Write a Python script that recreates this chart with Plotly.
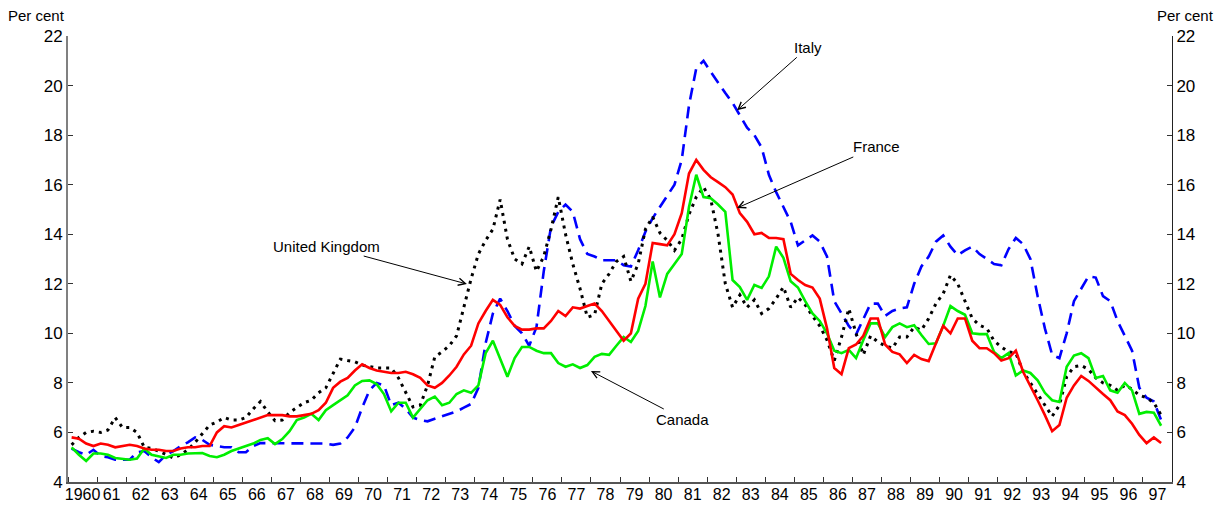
import plotly.graph_objects as go

# Quarterly data, 1960Q1 - 1997Q3 (per cent)
START_YEAR = 1960
N_QUARTERS = 151

italy = [
    5.35, 5.2, 5.1, 5.3,      # 1960
    5.05, 5.0, 4.9, 4.9,      # 1961
    4.9, 5.2, 5.25, 5.0,      # 1962
    4.8, 5.1, 5.25, 5.45,     # 1963
    5.6, 5.8, 5.7, 5.5,       # 1964
    5.45, 5.4, 5.4, 5.2,      # 1965
    5.2, 5.45, 5.57, 5.57,    # 1966
    5.57, 5.57, 5.57, 5.57,   # 1967
    5.57, 5.57, 5.57, 5.55,   # 1968
    5.5, 5.55, 5.8, 6.2,      # 1969
    7.0, 7.7, 8.0, 7.9,       # 1970
    7.1, 7.2, 6.95, 6.6,      # 1971
    6.5, 6.45, 6.55, 6.65,    # 1972
    6.75, 6.85, 7.0, 7.15,    # 1973
    7.8, 9.6, 10.8, 11.4,     # 1974
    10.9, 10.3, 10.0, 9.5,    # 1975
    10.25, 12.5, 14.3, 14.9,  # 1976
    15.2, 14.9, 13.8, 13.2,   # 1977
    13.1, 12.95, 12.95, 12.95,  # 1978
    12.75, 12.7, 13.35, 14.1,   # 1979
    14.65, 15.1, 15.5, 16.0,    # 1980
    17.0, 19.2, 20.7, 21.0,     # 1981
    20.55, 20.1, 19.7, 19.3,    # 1982
    18.8, 18.3, 18.0, 17.5,     # 1983
    16.4, 15.7, 15.1, 14.5,     # 1984
    13.55, 13.75, 13.95, 13.7,  # 1985
    13.1, 11.3, 10.8, 10.3,     # 1986
    9.95, 10.6, 11.2, 11.2,     # 1987
    10.7, 10.9, 11.0, 11.05,    # 1988
    12.0, 12.7, 13.1, 13.7,     # 1989
    13.95, 13.5, 13.15, 13.35,  # 1990
    13.5, 13.2, 13.0, 12.8,     # 1991
    12.75, 13.4, 13.85, 13.6,   # 1992
    13.0, 11.5, 10.2, 9.13,     # 1993
    9.0, 10.0, 11.3, 11.8,      # 1994
    12.3, 12.25, 11.5, 11.3,    # 1995
    10.5, 9.9, 9.3, 7.8,        # 1996
    7.4, 7.25, 6.5,             # 1997
]

france = [
    5.8, 5.75, 5.55, 5.45,    # 1960
    5.55, 5.5, 5.4, 5.45,     # 1961
    5.5, 5.45, 5.35, 5.3,     # 1962
    5.3, 5.25, 5.25, 5.35,    # 1963
    5.4, 5.4, 5.45, 5.45,     # 1964
    6.0, 6.25, 6.2, 6.3,      # 1965
    6.4, 6.5, 6.6, 6.7,       # 1966
    6.7, 6.7, 6.65, 6.65,     # 1967
    6.7, 6.75, 6.9, 7.2,      # 1968
    7.8, 8.05, 8.2, 8.5,      # 1969
    8.75, 8.6, 8.5, 8.45,     # 1970
    8.4, 8.4, 8.45, 8.35,     # 1971
    8.2, 7.9, 7.8, 8.0,       # 1972
    8.3, 8.65, 9.15, 9.5,     # 1973
    10.4, 10.9, 11.35, 11.15,   # 1974
    10.65, 10.3, 10.15, 10.15,  # 1975
    10.2, 10.2, 10.5, 10.9,     # 1976
    10.7, 11.05, 11.0, 11.1,    # 1977
    11.2, 10.9, 10.5, 10.1,     # 1978
    9.7, 10.0, 11.4, 12.0,      # 1979
    13.65, 13.6, 13.55, 14.0,   # 1980
    14.85, 16.45, 17.0, 16.6,   # 1981
    16.3, 16.1, 15.9, 15.6,     # 1982
    14.85, 14.5, 14.0, 14.05,   # 1983
    13.85, 13.85, 13.8, 12.4,   # 1984
    12.15, 11.95, 11.85, 11.4,  # 1985
    10.2, 8.6, 8.35, 9.4,       # 1986
    9.55, 9.9, 10.6, 10.6,      # 1987
    9.55, 9.25, 9.15, 8.8,      # 1988
    9.13, 8.96, 8.88, 9.6,      # 1989
    10.3, 10.0, 10.6, 10.6,     # 1990
    9.7, 9.4, 9.4, 9.2,         # 1991
    8.9, 9.0, 9.3, 8.45,        # 1992
    7.9, 7.3, 6.7, 6.05,        # 1993
    6.3, 7.4, 7.9, 8.28,        # 1994
    8.08, 7.8, 7.55, 7.3,       # 1995
    6.85, 6.7, 6.35, 5.9,       # 1996
    5.57, 5.8, 5.57,            # 1997
]

uk = [
    5.5, 5.8, 6.0, 6.05,      # 1960
    6.0, 6.1, 6.6, 6.2,       # 1961
    6.2, 6.0, 5.4, 5.35,      # 1962
    5.25, 5.1, 4.97, 5.1,     # 1963
    5.3, 5.6, 5.95, 6.3,      # 1964
    6.42, 6.6, 6.5, 6.5,      # 1965
    6.6, 6.95, 7.25, 6.83,    # 1966
    6.47, 6.5, 6.8, 7.0,      # 1967
    7.2, 7.3, 7.6, 7.8,       # 1968
    8.4, 8.96, 8.9, 8.85,     # 1969
    8.72, 8.65, 8.6, 8.6,     # 1970
    8.6, 8.2, 7.6, 7.03,      # 1971
    7.1, 7.9, 9.05, 9.25,     # 1972
    9.5, 9.9, 11.05, 12.2,    # 1973
    13.2, 13.75, 14.2, 15.4,  # 1974
    13.8, 13.0, 12.8, 13.5,   # 1975
    12.5, 13.1, 14.2, 15.5,   # 1976
    14.0, 12.8, 11.8, 10.65,  # 1977
    10.75, 12.0, 12.4, 12.9,  # 1978
    13.1, 12.1, 12.8, 14.2,   # 1979
    14.7, 14.05, 13.75, 13.35,  # 1980
    13.8, 14.8, 15.5, 15.9,     # 1981
    15.4, 14.0, 12.0, 11.05,    # 1982
    11.55, 11.05, 11.35, 10.8,  # 1983
    11.0, 11.4, 11.87, 11.05,   # 1984
    11.45, 11.15, 10.7, 10.3,   # 1985
    9.73, 8.9, 9.85, 11.0,      # 1986
    10.0, 9.13, 9.9, 9.65,      # 1987
    9.5, 9.4, 9.85, 9.85,       # 1988
    10.25, 10.13, 10.6, 11.2,   # 1989
    11.6, 12.35, 12.0, 11.3,    # 1990
    10.6, 10.33, 10.2, 9.7,     # 1991
    9.45, 9.25, 9.2, 8.45,      # 1992
    8.0, 7.6, 7.1, 6.65,        # 1993
    7.1, 8.25, 8.65, 8.7,       # 1994
    8.55, 8.2, 8.0, 7.9,        # 1995
    7.7, 7.9, 7.75, 7.5,        # 1996
    7.4, 7.2, 6.7,              # 1997
]

canada = [
    5.4, 5.1, 4.85, 5.15,     # 1960
    5.15, 5.1, 4.97, 4.92,    # 1961
    4.9, 4.95, 5.35, 5.1,     # 1962
    5.05, 4.97, 5.1, 5.1,     # 1963
    5.15, 5.17, 5.17, 5.05,   # 1964
    5.0, 5.1, 5.25, 5.35,     # 1965
    5.45, 5.55, 5.7, 5.77,    # 1966
    5.53, 5.73, 6.05, 6.5,    # 1967
    6.6, 6.75, 6.5, 6.9,      # 1968
    7.1, 7.3, 7.5, 7.9,       # 1969
    8.08, 8.1, 7.95, 7.55,    # 1970
    6.85, 7.2, 7.2, 6.6,      # 1971
    6.95, 7.3, 7.45, 7.1,     # 1972
    7.2, 7.55, 7.7, 7.6,      # 1973
    7.9, 9.2, 9.7, 9.0,       # 1974
    8.25, 9.0, 9.45, 9.45,    # 1975
    9.3, 9.2, 9.2, 8.8,       # 1976
    8.65, 8.75, 8.6, 8.72,    # 1977
    9.05, 9.17, 9.13, 9.5,    # 1978
    9.85, 9.65, 10.1, 11.1,   # 1979
    12.9, 11.45, 12.4, 12.8,    # 1980
    13.2, 15.1, 16.4, 15.5,     # 1981
    15.45, 15.2, 14.9, 12.15,   # 1982
    11.87, 11.35, 11.95, 11.83, # 1983
    12.3, 13.5, 13.05, 12.1,    # 1984
    11.85, 11.3, 10.8, 10.5,    # 1985
    10.0, 9.3, 9.2, 9.33,       # 1986
    9.0, 9.73, 10.4, 10.4,      # 1987
    9.85, 10.25, 10.4, 10.25,   # 1988
    10.33, 9.93, 9.57, 9.6,     # 1989
    10.3, 11.1, 10.9, 10.75,    # 1990
    10.0, 9.97, 9.97, 9.25,     # 1991
    9.0, 9.2, 8.3, 8.5,         # 1992
    8.4, 8.1, 7.6, 7.3,         # 1993
    7.23, 8.65, 9.1, 9.2,       # 1994
    9.0, 8.2, 8.28, 7.7,        # 1995
    7.6, 8.0, 7.7, 6.75,        # 1996
    6.83, 6.8, 6.27,            # 1997
]

years = list(range(1960, 1998))
year_labels = ['1960'] + [str(y)[2:] for y in years[1:]]
y_ticks = [4, 6, 8, 10, 12, 14, 16, 18, 20, 22]

# quarter mid-points on a decimal year axis
quarters = [START_YEAR + (i + 0.5) / 4 for i in range(N_QUARTERS)]

FONT = 'Liberation Sans, Arial, sans-serif'

fig = go.Figure()
fig.add_trace(go.Scatter(x=quarters, y=italy, name='Italy', mode='lines',
                         line=dict(color='#0000ff', width=2.6, dash='12px,7px')))
fig.add_trace(go.Scatter(x=quarters, y=uk, name='United Kingdom', mode='lines',
                         line=dict(color='#000000', width=3, dash='3px,5px')))
fig.add_trace(go.Scatter(x=quarters, y=canada, name='Canada', mode='lines',
                         line=dict(color='#00ee00', width=2.6)))
fig.add_trace(go.Scatter(x=quarters, y=france, name='France', mode='lines',
                         line=dict(color='#ff0000', width=2.6)))
# invisible trace so that the right-hand axis is drawn
fig.add_trace(go.Scatter(x=[quarters[0]], y=[italy[0]], yaxis='y2', mode='lines',
                         line=dict(width=0), hoverinfo='skip', showlegend=False))

arrows = [
    # text, head x, head y, ax, ay
    ('Italy', 1983.03, 19.0, 71, -63),
    ('France', 1983.03, 15.06, 139, -61),
    ('United Kingdom', 1973.73, 11.99, -140, -38),
    ('Canada', 1978.0, 8.48, 92, 48),
]
annotations = []
for txt, hx, hy, ax, ay in arrows:
    annotations.append(dict(
        x=hx, y=hy, xref='x', yref='y', text=txt, showarrow=True,
        ax=ax, ay=ay, arrowhead=5, arrowsize=1.4, arrowwidth=1,
        arrowcolor='black', font=dict(size=15, color='black', family=FONT),
    ))
# "Per cent" labels above both axes
annotations.append(dict(x=0, y=1, xref='paper', yref='paper', text='Per cent',
                        showarrow=False, xanchor='left', yanchor='bottom',
                        xshift=-62, yshift=10, font=dict(size=15, family=FONT)))
annotations.append(dict(x=1, y=1, xref='paper', yref='paper', text='Per cent',
                        showarrow=False, xanchor='right', yanchor='bottom',
                        xshift=44, yshift=10, font=dict(size=15, family=FONT)))

# page body adds an 8px margin, so the figure is 8px smaller than the window
fig.update_layout(
    width=1216, height=498,
    margin=dict(l=60, r=52, t=28, b=24, autoexpand=False),
    paper_bgcolor='white', plot_bgcolor='white',
    showlegend=False,
    font=dict(family=FONT, size=17, color='black'),
    annotations=annotations,
    xaxis=dict(
        range=[1960, 1998], tickmode='array',
        tickvals=[y + 0.5 for y in years], ticktext=year_labels,
        ticks='', showgrid=False, zeroline=False, tickangle=0,
        automargin=False, ticklabelstandoff=-3,
        showline=True, linecolor='#555555', linewidth=1.5,
        tickfont=dict(size=16),
        minor=dict(tickmode='array', tickvals=years, ticks='inside',
                   ticklen=5, tickcolor='#333333', showgrid=False),
    ),
    yaxis=dict(
        range=[4, 22], tickmode='array', tickvals=y_ticks,
        ticks='inside', ticklen=5, tickcolor='#333333',
        showgrid=False, zeroline=False, automargin=False,
        showline=True, linecolor='#808080', linewidth=2,
        tickfont=dict(size=17),
    ),
    yaxis2=dict(
        range=[4, 22], tickmode='array', tickvals=y_ticks,
        overlaying='y', side='right', automargin=False,
        ticks='inside', ticklen=5, tickcolor='#333333',
        showgrid=False, zeroline=False,
        showline=True, linecolor='#222222', linewidth=1,
        tickfont=dict(size=17),
    ),
)

fig.write_html('out.html')
